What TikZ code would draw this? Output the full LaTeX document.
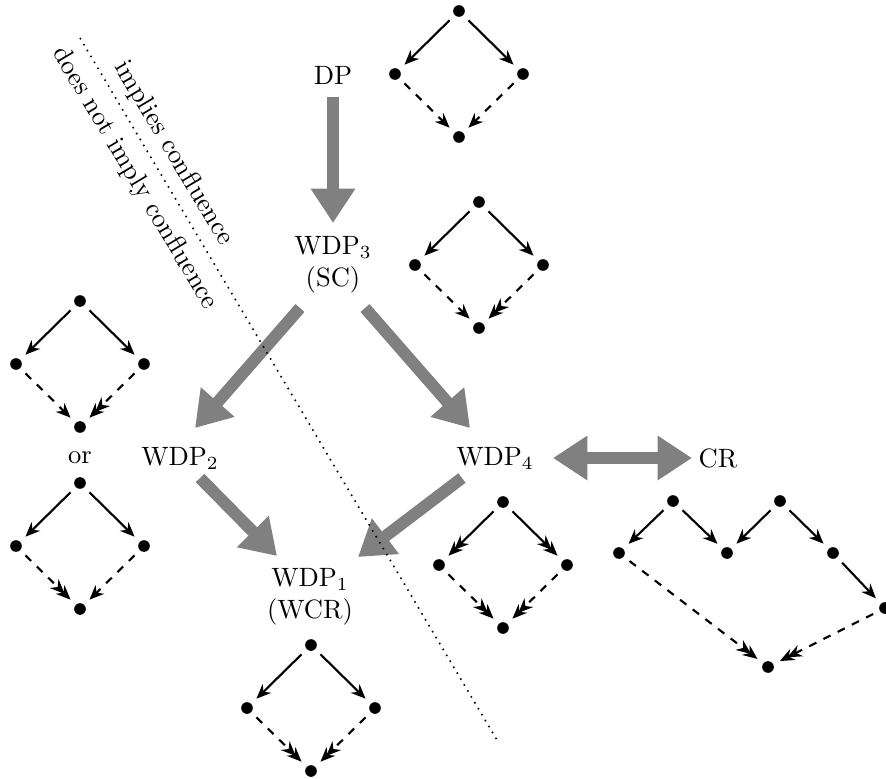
\documentclass[tikz,border=0pt]{standalone}
\usetikzlibrary{arrows.meta,calc}
\newcommand{\dmd}[7]{%
 \node[dot] (#1t) at (#2,#3-63) {};
 \node[dot] (#1l) at (#2-64,#3) {};
 \node[dot] (#1r) at (#2+64,#3) {};
 \node[dot] (#1b) at (#2,#3+63) {};
 \draw[#4] (#1t) -- (#1l);
 \draw[#5] (#1t) -- (#1r);
 \draw[#6] (#1l) -- (#1b);
 \draw[#7] (#1r) -- (#1b);}
\begin{document}
\begin{tikzpicture}[x=0.377pt,y=-0.377pt,
  dot/.style={circle,fill,inner sep=0pt,minimum size=4.4pt,outer sep=2.8pt},
  lbl/.style={inner sep=0pt,align=center},
  sol/.style={thick,-{Stealth[length=5.5pt,width=4.6pt]}},
  sol2/.style={thick,-{Stealth[length=5.5pt,width=4.6pt,sep=-2.4pt]Stealth[length=5.5pt,width=4.6pt]}},
  das/.style={sol,dashed},
  das2/.style={sol2,dashed},
  big/.style={draw=gray,line width=4.5pt,-{Triangle[length=13pt,width=16pt]}},
  bigboth/.style={draw=gray,line width=4.5pt,{Triangle[length=13pt,width=16pt]}-{Triangle[length=13pt,width=16pt]}}]
\useasboundingbox (0,0) rectangle (886,778);
% labels
\node[lbl] (dp) at (333,75) {DP};
\node[lbl] (wdp3) at (333,265) {WDP$_3$\\(SC)};
\node[lbl] (wdp2) at (180,458) {WDP$_2$};
\node[lbl] (orr) at (80,458) {or};
\node[lbl] (wdp4) at (495,458) {WDP$_4$};
\node[lbl] (cr) at (718,458) {CR};
\node[lbl] (wdp1) at (310,597) {WDP$_1$\\(WCR)};
% big gray arrows
\draw[big] ($(dp)+(0,22)$) -- ($(wdp3)+(0,-42)$);
\draw[big] ($(wdp3)+(-33,43)$) -- ($(wdp2)+(15,-30)$);
\draw[big] ($(wdp3)+(32,43)$) -- ($(wdp4)+(-25,-30)$);
\draw[big] ($(wdp2)+(20,20)$) -- ($(wdp1)+(-33,-41)$);
\draw[big] ($(wdp4)+(-33,20)$) -- ($(wdp1)+(48,-40)$);
\draw[bigboth] ($(wdp4)+(58,0)$) -- ($(cr)+(-26,0)$);
% dotted separator
\coordinate (la) at (80,38);
\coordinate (lb) at (497,740);
\draw[line width=0.6pt,dotted] (la) -- (lb)
  node[pos=0.18,sloped,above,inner sep=3.3pt] (imp) {implies confluence}
  node[pos=0.182,sloped,below,inner sep=4.4pt] (nimp) {does not imply confluence};
% diamonds
\dmd{a}{459}{74}{sol}{sol}{das}{das}
\dmd{b}{479}{265}{sol}{sol}{das}{das2}
\dmd{c}{80}{364}{sol}{sol}{das}{das2}
\dmd{d}{80}{546}{sol}{sol}{das2}{das}
\dmd{e}{503}{565}{sol2}{sol2}{das2}{das2}
\dmd{f}{311}{708}{sol}{sol}{das2}{das2}
% CR diagram
\node[dot] (ct1) at (673,501) {};
\node[dot] (cl1) at (619,553) {};
\node[dot] (cm) at (727,553) {};
\node[dot] (ct2) at (780,501) {};
\node[dot] (cr2) at (833,553) {};
\node[dot] (cf) at (885,608) {};
\node[dot] (cb) at (768,667) {};
\draw[sol] (ct1) -- (cl1);
\draw[sol] (ct1) -- (cm);
\draw[sol] (ct2) -- (cm);
\draw[sol] (ct2) -- (cr2);
\draw[sol] (cr2) -- (cf);
\draw[das2] (cl1) -- (cb);
\draw[das2] (cf) -- (cb);
\end{tikzpicture}
\end{document}
